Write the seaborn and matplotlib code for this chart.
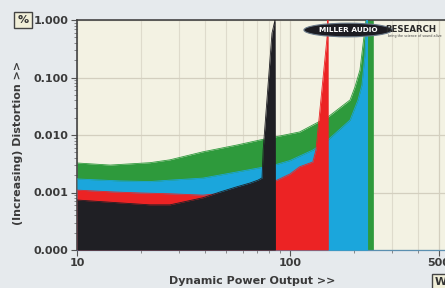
import matplotlib
matplotlib.use("Agg")
import matplotlib.pyplot as plt
import matplotlib.ticker as mticker
import seaborn as sns
import pandas as pd

# ---- data ----
black_power = [10, 15.9, 22, 27.3, 39, 46.9, 56.4, 64.8, 70.7, 73.9, 74.8, 82.3, 85.0, 85.3]
black_dist = [0.00074, 0.00066, 0.00061, 0.00061, 0.00081, 0.00102, 0.00126, 0.00146,
              0.00164, 0.00179, 0.0055, 0.59, 1.0, 0.0001]

red_power = [10, 15, 20, 27.3, 39, 50, 60, 75, 86.9, 100, 111, 128, 132.4, 149.3, 150, 150.7, 151]
red_dist = [0.0011, 0.00102, 0.00098, 0.00095, 0.00090, 0.00098, 0.0011, 0.0013, 0.00164,
            0.0021, 0.0028, 0.0034, 0.0055, 0.506, 1.0, 1.0, 0.0001]

blue_power = [10, 15.9, 22, 27.3, 39, 56.4, 72.4, 86.9, 100, 128.3, 150.7, 191.4, 208.5,
              217.6, 224.8, 228.5, 231, 231.3]
blue_dist = [0.00172, 0.00159, 0.00155, 0.00164, 0.00178, 0.00228, 0.0027, 0.0031, 0.0036,
             0.0055, 0.0082, 0.0182, 0.0406, 0.074, 0.246, 1.0, 1.0, 0.0001]

green_power = [10, 14.3, 22, 27.3, 39, 56.4, 72.4, 111, 150.7, 191.4, 201.7, 213, 227.3, 245.5, 245.8]
green_dist = [0.00326, 0.0030, 0.0033, 0.0037, 0.0051, 0.0067, 0.0082, 0.0113, 0.0206,
              0.0407, 0.068, 0.135, 1.0, 1.0, 0.0001]

y_ticks = [1.0, 0.1, 0.01, 0.001, 0.0001]
y_tick_labels = ["1.000", "0.100", "0.010", "0.001", "0.000"]
x_ticks = [10, 100, 500]
x_tick_labels = ["10", "100", "500"]

series = [
    ("green", green_power, green_dist, "#2e9a3c"),
    ("blue", blue_power, blue_dist, "#1ba6dc"),
    ("red", red_power, red_dist, "#ec2324"),
    ("black", black_power, black_dist, "#1f1f24"),
]

sns.set_theme(style="white")
plt.rcParams["font.family"] = ["DejaVu Sans"]

W, H = 445, 288
fig = plt.figure(figsize=(W / 100, H / 100), dpi=100, facecolor="#e6eaed")
L, R, T, B = 77, 503, 20, 250
ax = fig.add_axes([L / W, 1 - B / H, (R - L) / W, (B - T) / H])
ax.set_facecolor("#f3f2e3")
ax.set_xscale("log")
ax.set_yscale("log")
ax.set_xlim(10, 1000)
ax.set_ylim(0.0001, 1.0)

# grid
ax.grid(True, which="major", axis="both", color="#d3cfbf", lw=0.9)
ax.grid(True, which="minor", axis="x", color="#dedbcc", lw=0.8)
ax.set_axisbelow(True)

for i, (name, p, d, c) in enumerate(series):
    df = pd.DataFrame({"power": p, "dist": d})
    ax.fill_between(df["power"], 0.0001, df["dist"], color=c, lw=0, zorder=2 + i)
    sns.lineplot(data=df, x="power", y="dist", ax=ax, color=c, lw=0.6,
                 sort=False, estimator=None, zorder=2 + i)

ax.set_ylim(0.0001, 1.0)
ax.set_yticks(y_ticks)
ax.set_yticklabels(y_tick_labels)
ax.set_xticks(x_ticks)
ax.set_xticklabels(x_tick_labels)
ax.xaxis.set_minor_locator(mticker.LogLocator(base=10, subs=range(2, 10)))
ax.xaxis.set_minor_formatter(mticker.NullFormatter())
ax.yaxis.set_minor_locator(mticker.LogLocator(base=10, subs=range(2, 10)))
ax.yaxis.set_minor_formatter(mticker.NullFormatter())

ax.tick_params(axis="both", which="major", direction="out", length=4, width=0.8,
               color="#555555", labelsize=8, labelcolor="#3a3a3a", pad=2)
ax.tick_params(axis="both", which="minor", direction="out", length=2, width=0.6,
               color="#777777")
ax.tick_params(axis="x", which="both", bottom=True)
ax.tick_params(axis="y", which="both", left=True)
for lab in ax.get_xticklabels() + ax.get_yticklabels():
    lab.set_fontweight("bold")

for s in ["left", "top"]:
    ax.spines[s].set_color("#444444")
    ax.spines[s].set_linewidth(1.2)
ax.spines["bottom"].set_color("#5b8fb0")
ax.spines["bottom"].set_linewidth(0.9)
ax.spines["right"].set_visible(False)

ax.set_xlabel("Dynamic Power Output >>", fontsize=8, fontweight="bold", color="#3a3a3a")
ax.set_ylabel("(Increasing) Distortion >>", fontsize=8, fontweight="bold", color="#3a3a3a")
ax.xaxis.set_label_coords((252 - L) / (R - L), -(281 - B) / (B - T), transform=ax.transAxes)
ax.xaxis.label.set_va("center")
ax.yaxis.set_label_coords(-(77 - 18) / (R - L), (B - 143) / (B - T))
ax.yaxis.label.set_va("center")

# unit boxes
fig.text(23 / W, 1 - 20 / H, "%", fontsize=8, fontweight="bold", color="#333333",
         ha="center", va="center",
         bbox=dict(boxstyle="square,pad=0.3", fc="#f1efd8", ec="#444444", lw=1))
fig.text(441 / W, 1 - 282 / H, "W", fontsize=8, fontweight="bold", color="#333333",
         ha="center", va="center",
         bbox=dict(boxstyle="square,pad=0.3", fc="#f1efd8", ec="#444444", lw=1))

# logo
fig.text(348 / W, 1 - 30 / H, "MILLER AUDIO", fontsize=5.3, fontweight="bold", color="white",
         ha="center", va="center", zorder=20,
         bbox=dict(boxstyle="ellipse,pad=0.25", fc="#1c1c22", ec="#6a7a8a", lw=0.8))
fig.text(385 / W, 1 - 29.5 / H, "RESEARCH", fontsize=6.2, fontweight="bold", color="#2a2a2a",
         ha="left", va="center", zorder=20)
fig.text(388 / W, 1 - 36.5 / H, "bring the science of sound alive", fontsize=2.4,
         color="#444444", ha="left", va="center", zorder=20)

fig.savefig("out.png", dpi=100, facecolor=fig.get_facecolor())
